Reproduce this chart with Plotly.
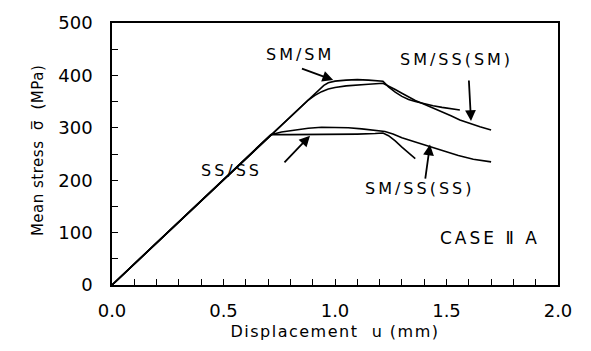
import plotly.graph_objects as go

# Mean stress vs displacement curves (u in mm, sigma in MPa)
sm_sm_u = [0.0, 0.70, 0.90, 0.93, 0.95, 0.97, 1.00, 1.05, 1.10, 1.15, 1.20, 1.215,
           1.24, 1.27, 1.30, 1.33, 1.36, 1.395, 1.44, 1.48, 1.52, 1.56]
sm_sm_s = [0, 282, 362, 374, 381, 386, 389, 391, 392, 391, 390, 389,
           378, 368, 360, 354, 350, 346, 342, 339, 336, 334]

sm_ss_sm_u = [0.0, 0.70, 0.85, 0.88, 0.91, 0.94, 0.97, 1.00, 1.05, 1.10, 1.15, 1.215,
              1.24, 1.27, 1.30, 1.33, 1.36, 1.395, 1.44, 1.48, 1.52, 1.56, 1.60, 1.65, 1.70]
sm_ss_sm_s = [0, 282, 342, 353, 362, 369, 374, 377, 380, 382, 383, 385,
              380, 373, 366, 359, 352, 346, 338, 330, 323, 315, 309, 302, 296]

ss_ss_u = [0.0, 0.713, 0.80, 0.90, 1.00, 1.10, 1.18, 1.215, 1.24, 1.27, 1.30, 1.33, 1.36]
ss_ss_s = [0, 287, 287, 287, 288, 288, 289, 290, 285, 275, 263, 252, 241]

sm_ss_ss_u = [0.0, 0.713, 0.76, 0.82, 0.88, 0.94, 1.00, 1.06, 1.12, 1.18, 1.224,
              1.26, 1.30, 1.36, 1.418, 1.48, 1.553, 1.62, 1.70]
sm_ss_ss_s = [0, 287, 292, 296, 299, 301, 301, 300, 298, 295, 293,
              288, 281, 273, 265, 256, 247, 240, 235]

x_ticks = [0.0, 0.5, 1.0, 1.5, 2.0]
x_labels = ["0.0", "0.5", "1.0", "1.5", "2.0"]
y_ticks = [0, 100, 200, 300, 400, 500]

# label text, label position (u, sigma), arrow tail, arrow tip
labels = [
    ("SM/SM", (0.843, 439), (0.845, 414), (0.992, 391)),
    ("SM/SS(SM)", (1.547, 430), (1.600, 393), (1.610, 313)),
    ("SS/SS", (0.538, 218), (0.767, 231), (0.888, 285)),
    ("SM/SS(SS)", (1.377, 185), (1.404, 200), (1.426, 268)),
]

FONT = "DejaVu Sans"


def spaced(text, px):
    return f'<span style="letter-spacing:{px}px">{text}</span>'


fig = go.Figure()
for u, s in [(sm_sm_u, sm_sm_s), (sm_ss_sm_u, sm_ss_sm_s),
             (ss_ss_u, ss_ss_s), (sm_ss_ss_u, sm_ss_ss_s)]:
    fig.add_trace(go.Scatter(x=u, y=s, mode="lines",
                             line=dict(color="black", width=1.6),
                             showlegend=False, hoverinfo="skip"))

annotations = []
for text, (lx, ly), (tx, ty), (hx, hy) in labels:
    annotations.append(dict(x=lx, y=ly, xref="x", yref="y", text=spaced(text, 3),
                            showarrow=False,
                            font=dict(family=FONT, size=16, color="black")))
    annotations.append(dict(x=hx, y=hy, ax=tx, ay=ty, xref="x", yref="y", axref="x", ayref="y",
                            text="", showarrow=True, arrowhead=2, arrowsize=1.2,
                            arrowwidth=1.8, arrowcolor="black"))

annotations.append(dict(x=1.695, y=89, xref="x", yref="y", text=spaced("CASE Ⅱ A", 3),
                        showarrow=False,
                        font=dict(family=FONT, size=17, color="black")))

plot_w, plot_h = 591 - 112 - 33, 351 - 15 - 66
annotations.append(dict(x=(27 - 112) / plot_w, y=(351 - 66 - 147) / plot_h,
                        xref="paper", yref="paper",
                        text=spaced("Mean stress  σ̅  (MPa)", 0.5),
                        showarrow=False, textangle=-90,
                        font=dict(family=FONT, size=15, color="black")))

fig.update_layout(
    width=591, height=351,
    margin=dict(l=112, r=33, t=15, b=66),
    paper_bgcolor="white", plot_bgcolor="white",
    annotations=annotations,
)

fig.update_xaxes(range=[0, 2.0], tickvals=x_ticks, ticktext=x_labels,
                 ticks="inside", ticklen=6, tickwidth=1, tickcolor="black",
                 minor=dict(dtick=0.1, ticks="inside", ticklen=6, tickcolor="black"),
                 showline=True, linecolor="black", linewidth=1.5, mirror=True,
                 showgrid=False, zeroline=False, ticklabelstandoff=9,
                 tickfont=dict(family=FONT, size=18, color="black"),
                 title=dict(text=spaced("Displacement  u (mm)", 1.5), standoff=5,
                            font=dict(family=FONT, size=16, color="black")))
fig.update_yaxes(range=[0, 500], tickvals=y_ticks,
                 ticks="inside", ticklen=6, tickwidth=1, tickcolor="black",
                 minor=dict(dtick=50, ticks="inside", ticklen=6, tickcolor="black"),
                 showline=True, linecolor="black", linewidth=1.5, mirror=True,
                 showgrid=False, zeroline=False, ticklabelstandoff=14,
                 tickfont=dict(family=FONT, size=18, color="black"))

fig.write_html("out.html")
